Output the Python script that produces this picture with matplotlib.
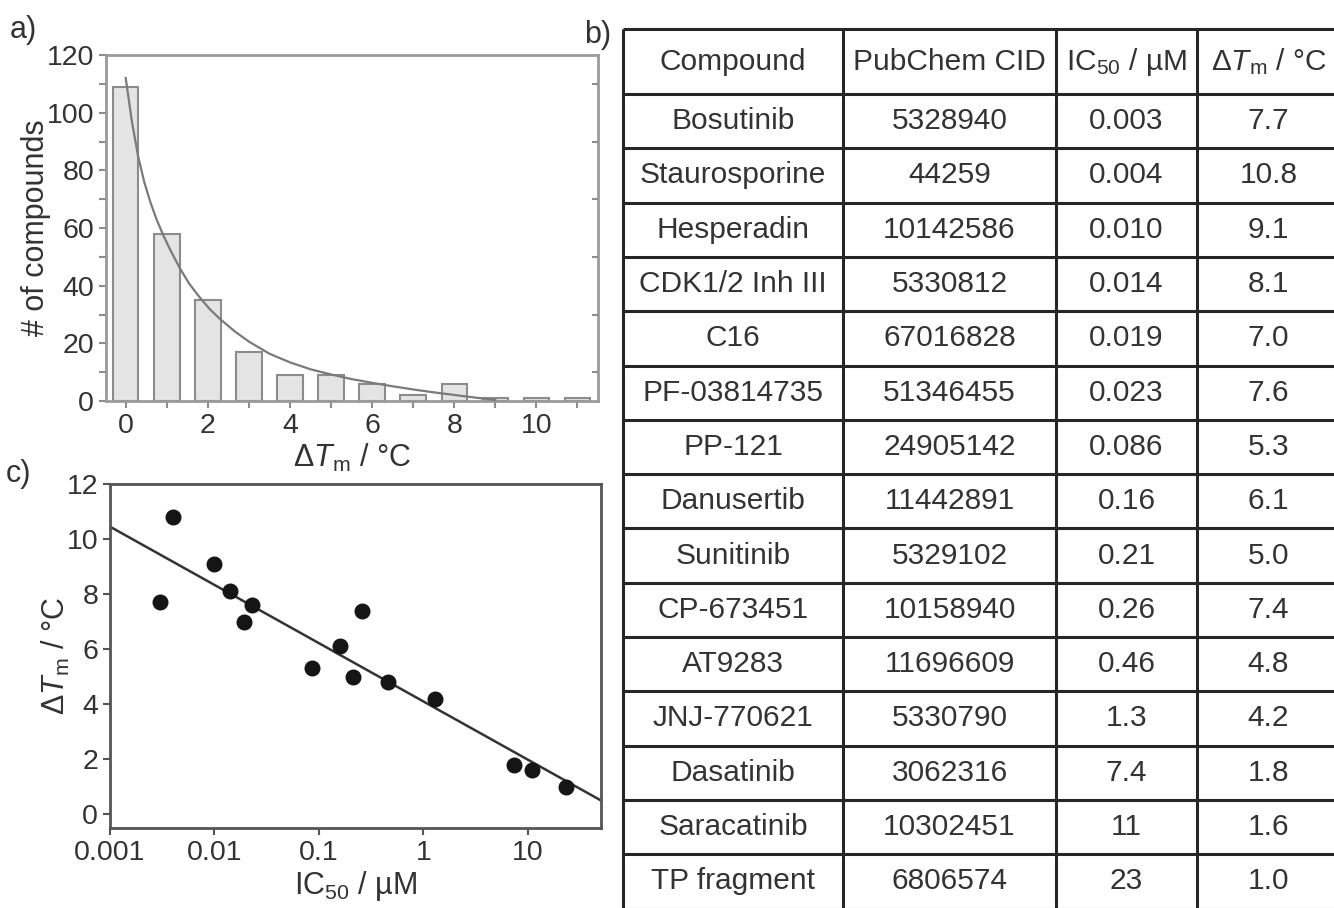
import numpy as np
import matplotlib
matplotlib.use("Agg")
import matplotlib.pyplot as plt
from matplotlib.ticker import MultipleLocator, FixedLocator, NullLocator

plt.rcParams['font.family'] = ['Liberation Sans', 'DejaVu Sans']
plt.rcParams['mathtext.fontset'] = 'custom'
plt.rcParams['mathtext.rm'] = 'Liberation Sans'
plt.rcParams['mathtext.it'] = 'Liberation Sans:italic'

TXT = '#333333'

# a) histogram of thermal shifts
hist_x = [0, 1, 2, 3, 4, 5, 6, 7, 8, 9, 10, 11]
hist_counts = [109, 58, 35, 17, 9, 9, 6, 2, 6, 1, 1, 1]
# decay curve
curve_x = [0, 0.15, 0.3, 0.45, 0.6, 0.75, 0.93, 1.1, 1.32, 1.55, 1.81, 2.05, 2.3,
           2.65, 3.0, 3.5, 4.0, 4.5, 5.0, 5.5, 6.0, 6.5, 7.0, 7.5, 8.0, 8.5, 9.0]
curve_y = [112, 97, 85, 76, 69, 63, 57, 52, 46, 40.6, 35.8, 31.8, 28.4,
           24.2, 20.6, 16.4, 13.4, 11.0, 9.2, 7.6, 6.3, 5.1, 4.0, 3.0, 2.1, 1.2, 0.4]

# b) table
compounds = ['Bosutinib', 'Staurosporine', 'Hesperadin', 'CDK1/2 Inh III', 'C16',
             'PF-03814735', 'PP-121', 'Danusertib', 'Sunitinib', 'CP-673451',
             'AT9283', 'JNJ-770621', 'Dasatinib', 'Saracatinib', 'TP fragment']
pubchem_cid = ['5328940', '44259', '10142586', '5330812', '67016828', '51346455',
               '24905142', '11442891', '5329102', '10158940', '11696609', '5330790',
               '3062316', '10302451', '6806574']
ic50_text = ['0.003', '0.004', '0.010', '0.014', '0.019', '0.023', '0.086', '0.16',
             '0.21', '0.26', '0.46', '1.3', '7.4', '11', '23']
dtm_text = ['7.7', '10.8', '9.1', '8.1', '7.0', '7.6', '5.3', '6.1', '5.0', '7.4',
            '4.8', '4.2', '1.8', '1.6', '1.0']
headers = ['Compound', 'PubChem CID', 'IC$_{50}$ / µM', 'Δ$\\mathit{T}_\\mathrm{m}$ / °C']

# c) correlation
ic50 = [float(v) for v in ic50_text]
dtm = [float(v) for v in dtm_text]
fit_x = [0.001, 50]
fit_y = [10.45, 0.5]

W, H = 1334, 908
fig = plt.figure(figsize=(W / 100, H / 100), dpi=100)


def px_axes(l, t, r, b):
    return fig.add_axes([l / W, 1 - b / H, (r - l) / W, (b - t) / H])


# ---- panel a
ax1 = px_axes(106, 55, 598, 401)
ax1.bar(hist_x, hist_counts, width=0.62, color='#e4e4e4', edgecolor='#8c8c8c',
        linewidth=1.5, zorder=2)
ax1.plot(curve_x, curve_y, color='#7a7a7a', lw=1.6, zorder=3)
ax1.set_xlim(-0.48, 11.5)
ax1.set_ylim(0, 120)
ax1.xaxis.set_major_locator(MultipleLocator(2))
ax1.xaxis.set_minor_locator(MultipleLocator(1))
ax1.yaxis.set_major_locator(MultipleLocator(20))
ax1.yaxis.set_minor_locator(MultipleLocator(10))
for s in ax1.spines.values():
    s.set_color('#9a9a9a')
    s.set_linewidth(2)
ax1.tick_params(which='both', direction='out', color='#8c8c8c', width=1.5,
                labelsize=20.5, labelcolor=TXT, length=5)
ax1.set_ylabel('# of compounds', fontsize=22, color=TXT, labelpad=-3)
ax1.set_xlabel('Δ$\\mathit{T}_\\mathrm{m}$ / °C', fontsize=22, color=TXT, labelpad=2)
ax1r = ax1.twinx()
ax1r.set_ylim(0, 120)
ax1r.yaxis.set_major_locator(FixedLocator([10, 30, 50, 70, 90, 110]))
ax1r.tick_params(direction='in', length=4, color='#8c8c8c', width=1.5, labelright=False)
for s in ax1r.spines.values():
    s.set_visible(False)

# ---- panel c
ax2 = px_axes(110, 484, 601, 828)
ax2.set_xscale('log')
ax2.plot(fit_x, fit_y, color='#333333', lw=1.8, zorder=2)
ax2.plot(ic50, dtm, 'o', ms=10.5, color='#151515', zorder=3)
ax2.set_xlim(0.001, 50)
ax2.set_ylim(-0.5, 12)
ax2.xaxis.set_major_locator(FixedLocator([0.001, 0.01, 0.1, 1, 10]))
ax2.xaxis.set_minor_locator(NullLocator())
ax2.set_xticklabels(['0.001', '0.01', '0.1', '1', '10'])
ax2.yaxis.set_major_locator(MultipleLocator(2))
for s in ax2.spines.values():
    s.set_color('#555555')
    s.set_linewidth(2)
ax2.tick_params(direction='out', length=5, width=1.5, color='#555555',
                labelsize=20.5, labelcolor=TXT)
ax2.set_ylabel('Δ$\\mathit{T}_\\mathrm{m}$ / °C', fontsize=22, color=TXT, labelpad=-4)
ax2.set_xlabel('IC$_{50}$ / µM', fontsize=22, color=TXT, labelpad=2)

# ---- panel b table
axt = fig.add_axes([618 / W, 0, (W - 618) / W, 1])
axt.set_xlim(618, W)
axt.set_ylim(H, 0)
axt.axis('off')
col_edges = [623, 843, 1056, 1197, 1340]
top, head_bottom, row_h = 29, 94, 54.3
n = len(compounds)
row_edges = [top, head_bottom] + [head_bottom + row_h * (i + 1) for i in range(n)]
axt.hlines(row_edges, col_edges[0], col_edges[-1], color='#262626', lw=2.2)
axt.vlines(col_edges, top, row_edges[-1], color='#262626', lw=2.2)
centers = [(col_edges[i] + col_edges[i + 1]) / 2 for i in range(4)]
for c, h in zip(centers, headers):
    axt.text(c, (top + head_bottom) / 2, h, ha='center', va='center',
             fontsize=21.5, color=TXT)
columns = [compounds, pubchem_cid, ic50_text, dtm_text]
for i in range(n):
    yc = head_bottom + row_h * (i + 0.5)
    for c, col in zip(centers, columns):
        axt.text(c, yc, col[i], ha='center', va='center', fontsize=21.5, color=TXT)

# panel letters
fig.text(10 / W, 1 - 30 / H, 'a)', fontsize=22, color=TXT, va='center')
fig.text(584 / W, 1 - 35 / H, 'b)', fontsize=22, color=TXT, va='center')
fig.text(6 / W, 1 - 474 / H, 'c)', fontsize=22, color=TXT, va='center')

fig.savefig('out.png', dpi=100)
